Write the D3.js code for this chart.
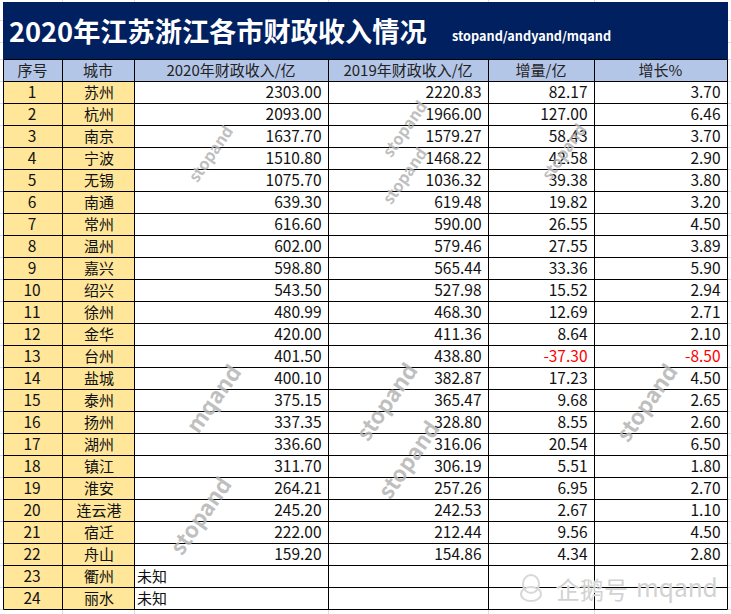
<!DOCTYPE html>
<html lang="zh">
<head>
<meta charset="utf-8">
<script src="https://cdn.jsdelivr.net/npm/d3@7/dist/d3.min.js"></script>
<style>
html,body{margin:0;padding:0;background:#fff;overflow:hidden}
svg{display:block}
text{font-family:"Noto Sans CJK SC","Noto Sans",sans-serif}
</style>
</head>
<body>
<svg id="c" width="731" height="614"></svg>
<script>
const titleText = "2020年江苏浙江各市财政收入情况";
const subtitleText = "stopand/andyand/mqand";
const headers = ["序号","城市","2020年财政收入/亿","2019年财政收入/亿","增量/亿","增长%"];
const cities = ["苏州","杭州","南京","宁波","无锡","南通","常州","温州","嘉兴","绍兴","徐州","金华","台州","盐城","泰州","扬州","湖州","镇江","淮安","连云港","宿迁","舟山","衢州","丽水"];
const revenue2020 = [2303.00,2093.00,1637.70,1510.80,1075.70,639.30,616.60,602.00,598.80,543.50,480.99,420.00,401.50,400.10,375.15,337.35,336.60,311.70,264.21,245.20,222.00,159.20,null,null];
const revenue2019 = [2220.83,1966.00,1579.27,1468.22,1036.32,619.48,590.00,579.46,565.44,527.98,468.30,411.36,438.80,382.87,365.47,328.80,316.06,306.19,257.26,242.53,212.44,154.86,null,null];
const increase = [82.17,127.00,58.43,42.58,39.38,19.82,26.55,27.55,33.36,15.52,12.69,8.64,-37.30,17.23,9.68,8.55,20.54,5.51,6.95,2.67,9.56,4.34,null,null];
const growth = [3.70,6.46,3.70,2.90,3.80,3.20,4.50,3.89,5.90,2.94,2.71,2.10,-8.50,4.50,2.65,2.60,6.50,1.80,2.70,1.10,4.50,2.80,null,null];
const unknownLabel = "未知";

const W = 731, H = 614;
const svg = d3.select("#c");
const fmt = d3.formatLocale({decimal:".",thousands:",",grouping:[3],currency:["",""],minus:"-"}).format(".2f");
const ranks = d3.range(1, cities.length + 1);

// layout scales
const edges = [3.5,62.5,134.5,328.5,488.5,594.5,727.5];
const colLeft = d3.scaleOrdinal().domain(d3.range(6)).range(edges.slice(0,6));
const colRight = d3.scaleOrdinal().domain(d3.range(6)).range(edges.slice(1));
const rowY = d3.scaleBand().domain(d3.range(cities.length + 1)).range([59.5,609.5]);
const rh = rowY.bandwidth();

// faint spreadsheet gridlines outside of the table
const g0 = svg.append("g").attr("stroke","#dcdcdc").attr("stroke-width",1);
edges.slice(1,6).forEach(x=>{
  g0.append("line").attr("x1",x).attr("x2",x).attr("y1",0).attr("y2",2);
  g0.append("line").attr("x1",x).attr("x2",x).attr("y1",610).attr("y2",H);
});
[20.5,42.5].concat(d3.range(cities.length+2).map(i=>59.5+i*rh)).forEach(y=>{
  g0.append("line").attr("x1",0).attr("x2",3).attr("y1",y).attr("y2",y);
  g0.append("line").attr("x1",728).attr("x2",W).attr("y1",y).attr("y2",y);
});

// title band
svg.append("rect").attr("x",3).attr("y",2).attr("width",725).attr("height",57.5).attr("fill","#002060");
svg.append("text").attr("x",9).attr("y",42).attr("fill","#fff")
  .attr("font-size",27.2).attr("font-weight",700).text(titleText);
svg.append("text").attr("x",452).attr("y",41).attr("fill","#fff")
  .attr("font-family","'Noto Sans',sans-serif")
  .attr("font-size",12.7).attr("font-weight",700).text(subtitleText);

// cell fills
d3.range(6).forEach(c=>{
  svg.append("rect").attr("x",colLeft(c)).attr("y",rowY(0))
    .attr("width",colRight(c)-colLeft(c)).attr("height",rh).attr("fill","#B4C6E7");
});
[0,1].forEach(c=>{
  svg.append("rect").attr("x",colLeft(c)).attr("y",rowY(1))
    .attr("width",colRight(c)-colLeft(c)).attr("height",rh*cities.length).attr("fill","#FFE699");
});

// grid
const grid = svg.append("g").attr("stroke","#000").attr("stroke-width",1);
grid.selectAll("line.v").data(edges).join("line").attr("class","v")
  .attr("x1",d=>d).attr("x2",d=>d).attr("y1",rowY(0)).attr("y2",609.5);
grid.selectAll("line.h").data(d3.range(cities.length+2)).join("line").attr("class","h")
  .attr("x1",edges[0]).attr("x2",edges[6])
  .attr("y1",d=>59.5+d*rh).attr("y2",d=>59.5+d*rh);

// cell text
const ink = "#111";
const mid = (c)=>(colLeft(c)+colRight(c))/2;
const base = (r)=>rowY(r)+rh/2+5.6;
headers.forEach((h,c)=>{
  svg.append("text").attr("x",mid(c)-0.5).attr("y",base(0)).attr("text-anchor","middle")
    .attr("font-size",15).attr("fill","#222").text(h);
});
svg.append("g").selectAll("text").data(ranks).join("text")
  .attr("x",mid(0)-1).attr("y",(d)=>base(d)).attr("text-anchor","middle")
  .attr("font-size",15.5).attr("fill",ink).text(d=>d);
svg.append("g").selectAll("text").data(cities).join("text")
  .attr("x",mid(1)+0.5).attr("y",(d,i)=>base(i+1)).attr("text-anchor","middle")
  .attr("font-size",15).attr("fill",ink).text(d=>d);
[revenue2020,revenue2019,increase,growth].forEach((arr,k)=>{
  svg.append("g").selectAll("text").data(arr).join("text")
    .attr("x",colRight(k+2)-7).attr("y",(d,i)=>base(i+1)).attr("text-anchor","end")
    .attr("font-size",15.5).attr("font-family","'Noto Sans',sans-serif")
    .attr("fill",d=>d<0?"#FF0000":ink)
    .text(d=>d===null?"":fmt(d));
});
revenue2020.forEach((v,i)=>{
  if(v===null) svg.append("text").attr("x",colLeft(2)+2.5).attr("y",base(i+1))
    .attr("font-size",15).attr("fill",ink).text(unknownLabel);
});

// diagonal watermarks
const marks = [
  ["stopand",211,154,16],["stopand",405,129,16],["stopand",405,176,16],["stopand",564,152,16],
  ["mqand",214,399,22],["stopand",387,402,22],["stopand",409,460,22],["stopand",647,403,22],["stopand",201,516,22]
];
svg.append("g").selectAll("text").data(marks).join("text")
  .attr("transform",d=>`translate(${d[1]},${d[2]}) rotate(-55)`)
  .attr("text-anchor","middle").attr("dy","0.35em")
  .attr("font-family","'Liberation Sans',sans-serif").attr("font-weight",700)
  .attr("font-size",d=>d[3]).attr("fill","#b4b4b4").attr("fill-opacity",0.85)
  .text(d=>d[0]);

// corner watermark
const wm = svg.append("g").attr("fill","#d2d2d2").attr("stroke","#fff").attr("stroke-width",0.6).attr("paint-order","stroke");
wm.append("ellipse").attr("cx",531).attr("cy",584).attr("rx",8).attr("ry",9).attr("fill","none").attr("stroke","#d8d8d8").attr("stroke-width",2);
wm.append("ellipse").attr("cx",531).attr("cy",594).attr("rx",10).attr("ry",7).attr("fill","none").attr("stroke","#d8d8d8").attr("stroke-width",2);
wm.append("text").attr("x",556).attr("y",599).attr("font-size",24).text("企鹅号");
wm.append("text").attr("x",636).attr("y",597).attr("font-family","'Noto Sans',sans-serif").attr("font-size",24.5).text("mqand");
</script>
</body>
</html>
